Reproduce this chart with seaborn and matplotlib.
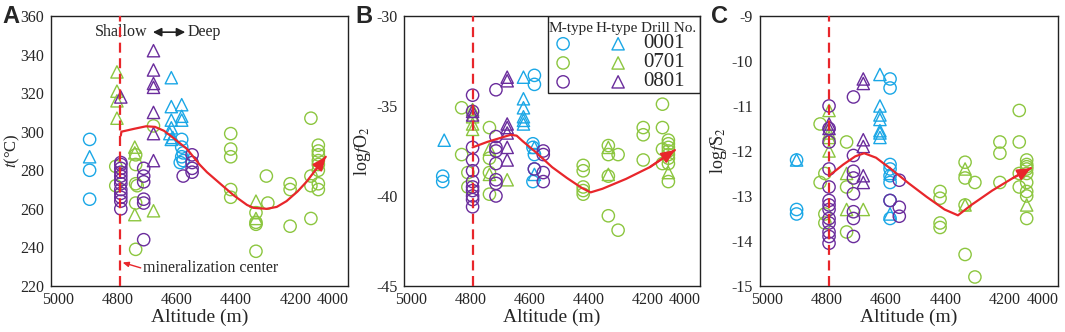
import numpy as np
import pandas as pd
import seaborn as sns
import matplotlib
matplotlib.use("Agg")
from matplotlib import pyplot as plt
from matplotlib.patches import Rectangle
from matplotlib.transforms import ScaledTranslation

# ---- data: (altitude m, value) ----
# panel A : t (degC)
A_0001_M = [(4870, 296), (4870, 280), (4870, 265), (4560, 296), (4560, 292), (4555, 289),
            (4560, 287), (4555, 285), (4565, 284)]
A_0001_H = [(4870, 287), (4595, 328), (4595, 313), (4560, 314), (4595, 306), (4560, 308),
            (4560, 306), (4595, 302), (4600, 299), (4590, 297), (4595, 296)]
A_0701_M = [(4782, 282), (4782, 272), (4715, 288), (4715, 283), (4715, 273), (4710, 272),
            (4715, 263), (4715, 239), (4655, 303), (4395, 299), (4395, 291), (4395, 287),
            (4395, 270), (4395, 266), (4275, 277), (4310, 258), (4310, 253), (4310, 252),
            (4310, 238), (4270, 263), (4195, 273), (4195, 270), (4195, 251), (4125, 307),
            (4125, 277), (4125, 272), (4125, 255), (4100, 293), (4100, 290), (4100, 288),
            (4100, 285), (4100, 283), (4100, 280), (4100, 273), (4100, 270)]
A_0701_H = [(4778, 331), (4778, 321), (4778, 316), (4778, 307), (4718, 292), (4718, 289),
            (4718, 257), (4655, 259), (4310, 264), (4310, 255)]
A_0801_M = [(4765, 284), (4765, 283), (4765, 281), (4765, 279), (4765, 277), (4765, 275),
            (4765, 273), (4765, 270), (4765, 268), (4765, 266), (4765, 264), (4765, 260),
            (4688, 281), (4688, 277), (4688, 274), (4688, 265), (4688, 263), (4688, 244),
            (4555, 277), (4525, 288), (4525, 284), (4525, 281), (4525, 279)]
A_0801_H = [(4765, 318), (4655, 342), (4655, 332), (4655, 325), (4655, 323), (4655, 310),
            (4655, 299), (4655, 285)]
A_trend = [(4765, 298), (4763, 300), (4720, 301.5), (4680, 302.8), (4650, 302.5),
           (4620, 300.5), (4590, 297), (4542, 291), (4500, 283), (4475, 279), (4430, 273),
           (4385, 267), (4340, 262), (4318, 260.5), (4274, 260), (4240, 261), (4207, 264),
           (4170, 269), (4140, 274), (4110, 280), (4075, 287)]

# panel B : log fO2
B_0001_M = [(4870, -38.9), (4870, -39.2), (4560, -33.3), (4560, -33.8), (4565, -37.1),
            (4565, -37.3), (4560, -37.7), (4560, -38.5), (4565, -39.2)]
B_0001_H = [(4865, -36.9), (4597, -33.4), (4597, -34.6), (4597, -35.1), (4597, -35.6),
            (4597, -35.8), (4597, -36.0), (4560, -37.3), (4560, -38.8)]
B_0701_M = [(4806, -35.1), (4806, -37.7), (4785, -38.7), (4785, -39.5), (4712, -36.2),
            (4712, -37.9), (4712, -38.7), (4712, -39.9), (4395, -38.3), (4395, -38.6),
            (4395, -39.5), (4395, -39.7), (4395, -39.9), (4310, -37.2), (4310, -37.7),
            (4310, -38.9), (4310, -41.1), (4277, -37.7), (4277, -41.9), (4192, -36.2),
            (4192, -36.6), (4192, -38.0), (4127, -34.9), (4127, -36.2), (4127, -37.4),
            (4127, -38.2), (4107, -36.9), (4107, -37.1), (4107, -37.3), (4107, -37.5),
            (4107, -37.7), (4107, -37.9), (4107, -38.2), (4107, -39.2)]
B_0701_H = [(4769, -35.2), (4769, -35.6), (4769, -36.0), (4769, -36.3), (4712, -37.4),
            (4712, -38.8), (4652, -39.1), (4310, -37.3), (4310, -38.8), (4107, -38.7)]
B_0801_M = [(4769, -34.4), (4769, -35.3), (4769, -37.3), (4769, -38.0), (4769, -38.6),
            (4769, -39.2), (4769, -39.5), (4769, -39.7), (4769, -40.0), (4769, -40.2),
            (4769, -40.6), (4690, -34.1), (4690, -36.7), (4690, -37.3), (4690, -37.5),
            (4690, -38.2), (4690, -39.1), (4690, -39.3), (4690, -40.0), (4560, -38.5),
            (4530, -37.5), (4530, -37.7), (4530, -38.7), (4530, -39.2)]
B_0801_H = [(4769, -35.3), (4769, -35.5), (4652, -33.4), (4652, -33.6), (4652, -36.0),
            (4652, -36.2), (4652, -36.5), (4652, -37.3), (4652, -38.0)]
B_trend = [(4769, -37.3), (4720, -37.0), (4680, -36.8), (4640, -36.6), (4620, -36.65),
           (4600, -36.95), (4560, -37.5), (4500, -38.4), (4450, -39.0), (4400, -39.55),
           (4370, -39.8), (4330, -39.6), (4250, -39.05), (4170, -38.4), (4085, -37.45)]

# panel C : log fS2
C_0001_M = [(4877, -12.2), (4877, -13.3), (4877, -13.4), (4563, -10.4), (4563, -10.6),
            (4563, -12.3), (4563, -12.4), (4563, -12.55), (4563, -12.7), (4563, -13.1),
            (4563, -13.5)]
C_0001_H = [(4877, -12.2), (4597, -10.3), (4597, -11.0), (4597, -11.2), (4597, -11.3),
            (4597, -11.55), (4597, -11.6), (4597, -11.7), (4563, -12.5), (4563, -13.4)]
C_0701_M = [(4798, -11.4), (4798, -12.7), (4782, -12.5), (4782, -13.4), (4782, -13.6),
            (4709, -11.8), (4709, -12.8), (4709, -13.8), (4395, -12.9), (4395, -13.05),
            (4395, -13.6), (4395, -13.7), (4311, -12.25), (4311, -12.6), (4311, -13.2),
            (4311, -14.3), (4278, -12.7), (4278, -14.8), (4194, -11.8), (4194, -12.05),
            (4194, -12.7), (4129, -11.1), (4129, -11.8), (4129, -12.5), (4129, -12.8),
            (4104, -12.2), (4104, -12.3), (4104, -12.35), (4104, -12.4), (4104, -12.5),
            (4104, -12.7), (4104, -12.9), (4104, -13.0), (4104, -13.5)]
C_0701_H = [(4768, -11.1), (4768, -11.6), (4768, -11.7), (4768, -12.0), (4709, -12.5),
            (4709, -13.3), (4653, -13.3), (4311, -12.4), (4311, -13.2), (4104, -13.2)]
C_0801_M = [(4768, -11.0), (4768, -11.5), (4768, -11.8), (4768, -12.4), (4768, -12.8),
            (4768, -13.1), (4768, -13.2), (4768, -13.3), (4768, -13.5), (4768, -13.6),
            (4768, -13.8), (4768, -13.9), (4768, -14.05), (4686, -10.8), (4686, -12.1),
            (4686, -12.45), (4686, -12.6), (4686, -12.95), (4686, -13.35), (4686, -13.5),
            (4686, -13.9), (4563, -13.1), (4532, -12.65), (4532, -13.25), (4532, -13.45)]
C_0801_H = [(4768, -11.4), (4768, -11.5), (4653, -10.4), (4653, -10.5), (4653, -11.75),
            (4653, -11.9), (4653, -12.55), (4653, -12.7)]
C_trend = [(4768, -12.55), (4720, -12.3), (4680, -12.12), (4650, -12.05), (4610, -12.15),
           (4560, -12.4), (4500, -12.72), (4440, -13.02), (4380, -13.3), (4335, -13.43),
           (4290, -13.2), (4220, -12.88), (4150, -12.6), (4090, -12.38)]

drills = ["0001", "0701", "0801"]
center_alt = 4767

ylims = {"A": (220, 360), "B": (-45, -30), "C": (-15, -9)}
yticks = {"A": np.arange(220, 361, 20), "B": [-45, -40, -35, -30], "C": np.arange(-15, -8.9, 1)}
ylabels = {"A": r"$\it{t}$(°C)", "B": r"log$\it{f}$O$_2$", "C": r"log$\it{f}$S$_2$"}
xticks = [5000, 4800, 4600, 4400, 4200, 4000]

# ---- style ----
sns.set_style("white")
plt.rcParams["font.family"] = ["Liberation Serif", "DejaVu Serif"]
plt.rcParams["mathtext.fontset"] = "stix"
plt.rcParams["axes.unicode_minus"] = False

colors = {"0001": "#1aa7e6", "0701": "#8cc63f", "0801": "#6a2c9c"}
markers = {"M": "o", "H": "^"}
red = "#e8262b"

panels = {
    "A": {"0001": (A_0001_M, A_0001_H), "0701": (A_0701_M, A_0701_H), "0801": (A_0801_M, A_0801_H), "trend": A_trend},
    "B": {"0001": (B_0001_M, B_0001_H), "0701": (B_0701_M, B_0701_H), "0801": (B_0801_M, B_0801_H), "trend": B_trend},
    "C": {"0001": (C_0001_M, C_0001_H), "0701": (C_0701_M, C_0701_H), "0801": (C_0801_M, C_0801_H), "trend": C_trend},
}

fig = plt.figure(figsize=(10.65, 3.32), dpi=100)
lefts = {"A": 0.0479, "B": 0.3796, "C": 0.7136}
widths = {"A": 0.2789, "B": 0.2777, "C": 0.2795}

for key in ["A", "B", "C"]:
    ax = fig.add_axes([lefts[key], 0.1386, widths[key], 0.8133])
    for d in drills:
        for typ, pts in zip(["M", "H"], panels[key][d]):
            df = pd.DataFrame(pts, columns=["alt", "val"])
            sns.scatterplot(data=df, x="alt", y="val", marker=markers[typ], s=78,
                            facecolor="none", edgecolor=colors[d], linewidth=1.0,
                            ax=ax, zorder=3)
    # vertical mineralization centre line
    ax.axvline(center_alt, color=red, lw=1.6, ls=(0, (4.5, 2.5)), zorder=4)
    # trend curve with arrow head
    tr = pd.DataFrame(panels[key]["trend"], columns=["alt", "val"])
    sns.lineplot(data=tr, x="alt", y="val", sort=False, color=red, lw=1.6, ax=ax, zorder=5)
    ax.annotate("", xy=(tr.alt.iloc[-1], tr.val.iloc[-1]),
                xytext=(tr.alt.iloc[-2], tr.val.iloc[-2]),
                arrowprops=dict(arrowstyle="-|>,head_length=0.8,head_width=0.35",
                                color=red, lw=1.5, shrinkA=0, shrinkB=0), zorder=6)

    ax.set_xlim(5000, 4000)
    ax.set_ylim(*ylims[key])
    ax.set_xticks(xticks)
    ax.set_yticks(yticks[key])
    ax.set_xlabel("Altitude (m)", fontsize=14, labelpad=1)
    ax.set_ylabel(ylabels[key], fontsize=12 if key == "A" else 13, labelpad=2)
    ax.tick_params(direction="in", length=4, width=0.8, labelsize=11.5)
    ax.tick_params(axis="y", pad=5)
    ax.tick_params(axis="x", pad=4)
    # x tick labels sit a little right of their ticks, the last one pulled inside
    labs = ax.get_xticklabels()
    for i, lab in enumerate(labs):
        dx = -15 if i == len(labs) - 1 else 7
        lab.set_transform(lab.get_transform() + ScaledTranslation(dx / 100, 0, fig.dpi_scale_trans))
    for sp in ax.spines.values():
        sp.set_color("#222222")
        sp.set_linewidth(1.0)

    fig.text(lefts[key] - 0.046, 0.985, key, fontsize=17, fontweight="bold",
             family="Liberation Sans", va="top", ha="left")

    if key == "A":
        ax.yaxis.set_label_coords(-0.098, 0.5)
        ax.text(0.323, 0.94, "Shallow", transform=ax.transAxes, ha="right", va="center", fontsize=11.5)
        ax.text(0.461, 0.94, "Deep", transform=ax.transAxes, ha="left", va="center", fontsize=11.5)
        ax.annotate("", xy=(0.343, 0.94), xytext=(0.452, 0.94), xycoords="axes fraction",
                    arrowprops=dict(arrowstyle="<|-|>,head_length=0.5,head_width=0.25",
                                    color="#222222", lw=1.2, shrinkA=0, shrinkB=0))
        ax.text(0.31, 0.067, "mineralization center", transform=ax.transAxes,
                ha="left", va="center", fontsize=11.5)
        ax.annotate("", xy=(center_alt - 8, 0.087), xytext=(0.302, 0.067),
                    xycoords=("data", "axes fraction"), textcoords="axes fraction",
                    arrowprops=dict(arrowstyle="-|>,head_length=0.35,head_width=0.15",
                                    color=red, lw=1.0, shrinkA=0, shrinkB=0))

    if key == "B":
        ax.add_patch(Rectangle((0.485, 0.715), 0.515, 0.285, transform=ax.transAxes,
                               fill=False, edgecolor="#222222", lw=1.0, zorder=7))
        for xh, lab in zip([0.563, 0.718, 0.893], ["M-type", "H-type", "Drill No."]):
            ax.text(xh, 0.953, lab, transform=ax.transAxes, ha="center", va="center",
                    fontsize=11, zorder=8)
        for yr, d in zip([0.897, 0.826, 0.756], drills):
            ax.scatter([0.537], [yr], transform=ax.transAxes, marker="o", s=78,
                       facecolor="none", edgecolor=colors[d], linewidth=1.0, zorder=8)
            ax.scatter([0.723], [yr], transform=ax.transAxes, marker="^", s=78,
                       facecolor="none", edgecolor=colors[d], linewidth=1.0, zorder=8)
            ax.text(0.877, yr, d, transform=ax.transAxes, ha="center", va="center",
                    fontsize=15, zorder=8)

plt.savefig("out.png", dpi=100)
